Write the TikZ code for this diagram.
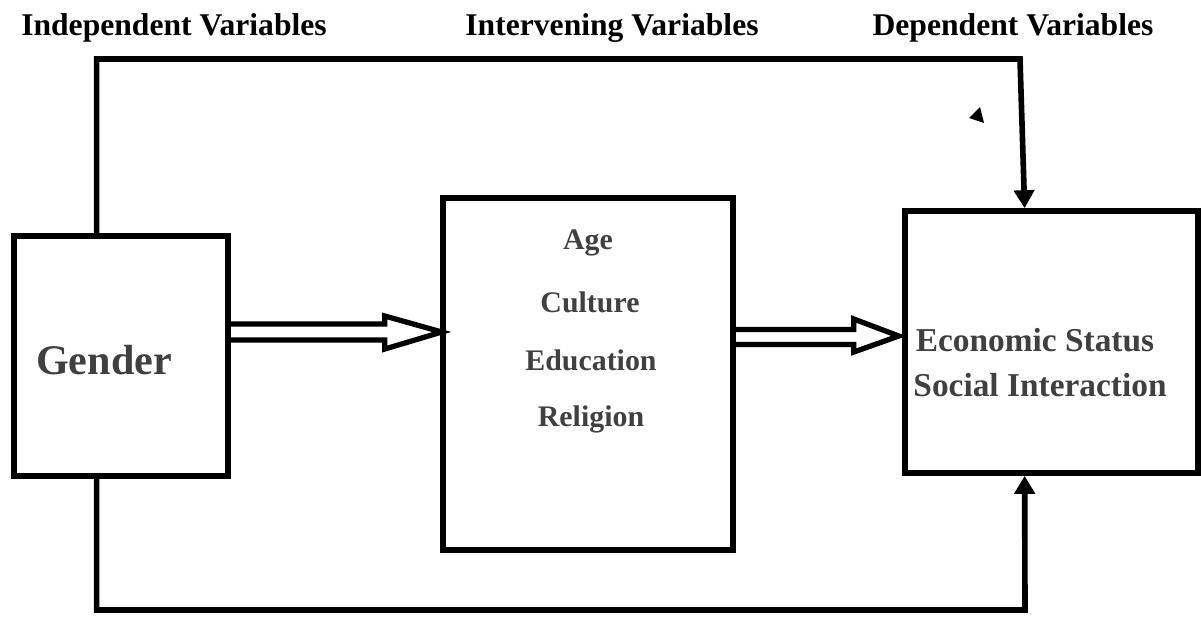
\documentclass[tikz,border=0pt]{standalone}
\usepackage{fontspec}
\setmainfont{Liberation Serif}
\usetikzlibrary{arrows.meta, calc, positioning}
\definecolor{txtgrey}{HTML}{404040}

\begin{document}
\begin{tikzpicture}[x=0.02cm, y=-0.02cm,
	varbox/.style={draw, line width=3.2pt, inner sep=0pt},
	link/.style={line width=3.2pt, line join=miter, -{Triangle[length=0.36cm, width=0.4cm]}},
	hollow/.style={line width=3pt, line join=miter},
	head/.style={font=\bfseries\fontsize{18}{22}\selectfont},
	item/.style={font=\bfseries\fontsize{17}{20}\selectfont, text=txtgrey}]
	
	\useasboundingbox (0,0) rectangle (1201,642);
	
	% headings
	\node[head] (indep) at (174,28) {Independent Variables};
	\node[head] (interv) at (612,28) {Intervening Variables};
	\node[head] (dep) at (1013,28) {Dependent Variables};
	
	% boxes
	\node[varbox, minimum width=4.28cm, minimum height=4.79cm] (gender) at (121,356) {};
	\node[varbox, minimum width=5.8cm, minimum height=7.04cm] (inter) at (588,374) {};
	\node[varbox, minimum width=5.86cm, minimum height=5.24cm] (status) at (1051.5,342) {};
	
	% box texts
	\node[item, font=\bfseries\fontsize{24}{28}\selectfont] (gtext) at (104,360) {Gender};
	\node[item] (age) at (588,243) {Age};
	\node[item] (culture) at (590,302) {Culture};
	\node[item] (educ) at (591,360) {Education};
	\node[item] (relig) at (591,419) {Religion};
	\node[item, font=\bfseries\fontsize{19}{22}\selectfont] (econ) at (1035,340) {Economic Status};
	\node[item, font=\bfseries\fontsize{19}{22}\selectfont] (social) at (1040,385) {Social Interaction};
	
	% hollow arrows
	\draw[hollow] ([yshift=0.64cm]gender.east) -- ++(154,0) -- ++(0,-8) -- ++(57,16) -- ++(-57,17) -- ++(0,-9) -- ++(-154,0);
	\draw[hollow] ([yshift=0.89cm]inter.east) -- ++(118,0) -- ++(0,-10.5) -- ++(45,17) -- ++(-45,16) -- ++(0,-7.5) -- ++(-118,0);
	
	% outer connectors
	\coordinate (topturn) at (1020,59);
	\coordinate (botturn) at (1025,610);
	\draw[link] ($(gender.north west)!0.389!(gender.north east)$) |- (topturn) -- ($(status.north west)!0.41!(status.north east)$);
	\draw[link] ($(gender.south west)!0.389!(gender.south east)$) |- (botturn) -- ($(status.south west)!0.41!(status.south east)$);
	
	\fill (969,118) -- (980,107) -- (984,123) -- cycle;
\end{tikzpicture}
\end{document}
